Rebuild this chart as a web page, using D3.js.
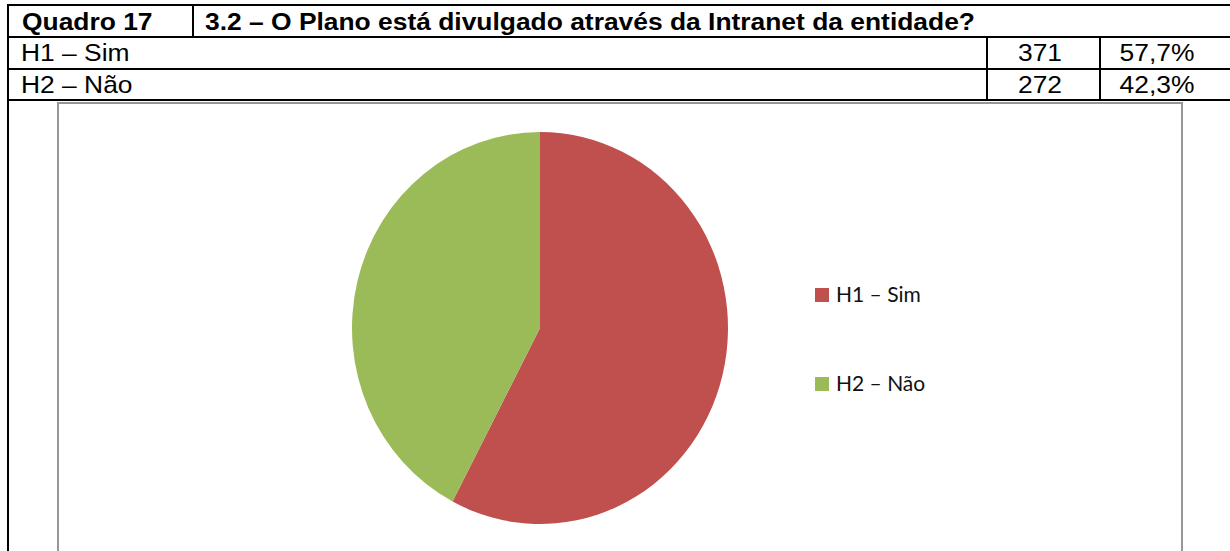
<!DOCTYPE html>
<html>
<head>
<meta charset="utf-8">
<script src="https://cdn.jsdelivr.net/npm/d3@7"></script>
<style>
  html, body { margin: 0; padding: 0; background: #fff; }
  svg { display: block; }
</style>
</head>
<body>
<svg id="chart" width="1230" height="551"></svg>
<script>
// table / chart data
const quadro = "Quadro 17";
const question = "3.2 – O Plano está divulgado através da Intranet da entidade?";
const categories = ["H1 – Sim", "H2 – Não"];
const counts = [371, 272];
const percents = ["57,7%", "42,3%"];
const colors = ["#C0504D", "#9BBB59"];

const svg = d3.select("#chart");

// table geometry
const tableLeft = 8, tableRight = 1240;
const rowY = [5, 37, 69, 100];
const colQuadro = 193, colCount = 987, colPct = 1100;

const lines = svg.append("g").attr("stroke", "#000").attr("stroke-width", 2);

// horizontal rules
rowY.forEach(y => {
    lines.append("line").attr("x1", tableLeft).attr("x2", tableRight).attr("y1", y).attr("y2", y);
});
// left border runs down the whole page
lines.append("line").attr("x1", tableLeft).attr("x2", tableLeft).attr("y1", rowY[0] - 1).attr("y2", 560);
// header divider
lines.append("line").attr("x1", colQuadro).attr("x2", colQuadro).attr("y1", rowY[0]).attr("y2", rowY[1]);
// count / pct dividers
[colCount, colPct].forEach(x => {
    lines.append("line").attr("x1", x).attr("x2", x).attr("y1", rowY[1]).attr("y2", rowY[3]);
});

const txt = svg.append("g")
    .style("font-family", "'Liberation Sans', Arial, sans-serif")
    .attr("fill", "#000");

function cellText(x, y, s, bold, anchor) {
    txt.append("text")
        .attr("transform", `translate(${x},${y}) scale(1.1,1)`)
        .attr("text-anchor", anchor || "start")
        .style("font-size", "24px")
        .style("font-weight", bold ? "bold" : "normal")
        .text(s);
}

cellText(22, 30, quadro, true);
cellText(205, 30, question, true);

categories.forEach((c, i) => {
    const base = rowY[i + 1] + 24;
    cellText(21, base, c, false);
    cellText(1040, base, counts[i], false, "middle");
    cellText(1157, base, percents[i], false, "middle");
});

// chart frame
svg.append("rect")
    .attr("x", 58).attr("y", 103)
    .attr("width", 1124).attr("height", 470)
    .attr("fill", "#fff")
    .attr("stroke", "#969696")
    .attr("stroke-width", 2);

// pie
const cx = 540, cy = 328, rx = 188, ry = 196;
const pie = d3.pie().sort(null).value(d => d)(counts);
const arc = d3.arc().innerRadius(0).outerRadius(rx);

const pg = svg.append("g")
    .attr("transform", `translate(${cx},${cy}) scale(1,${ry / rx})`);

pg.selectAll("path")
    .data(pie)
    .enter().append("path")
    .attr("d", arc)
    .attr("fill", (d, i) => colors[i]);

// legend
const legend = svg.append("g")
    .style("font-family", "Lato, 'Open Sans', sans-serif");

const legY = d3.scalePoint().domain(categories).range([288, 377]);

const item = legend.selectAll("g")
    .data(categories)
    .enter().append("g")
    .attr("transform", d => `translate(815,${legY(d)})`);

item.append("rect")
    .attr("width", 14).attr("height", 14)
    .attr("fill", (d, i) => colors[i]);

item.append("text")
    .attr("x", 21).attr("y", 14)
    .style("font-size", "21px")
    .attr("fill", "#111")
    .text(d => d);
</script>
</body>
</html>
